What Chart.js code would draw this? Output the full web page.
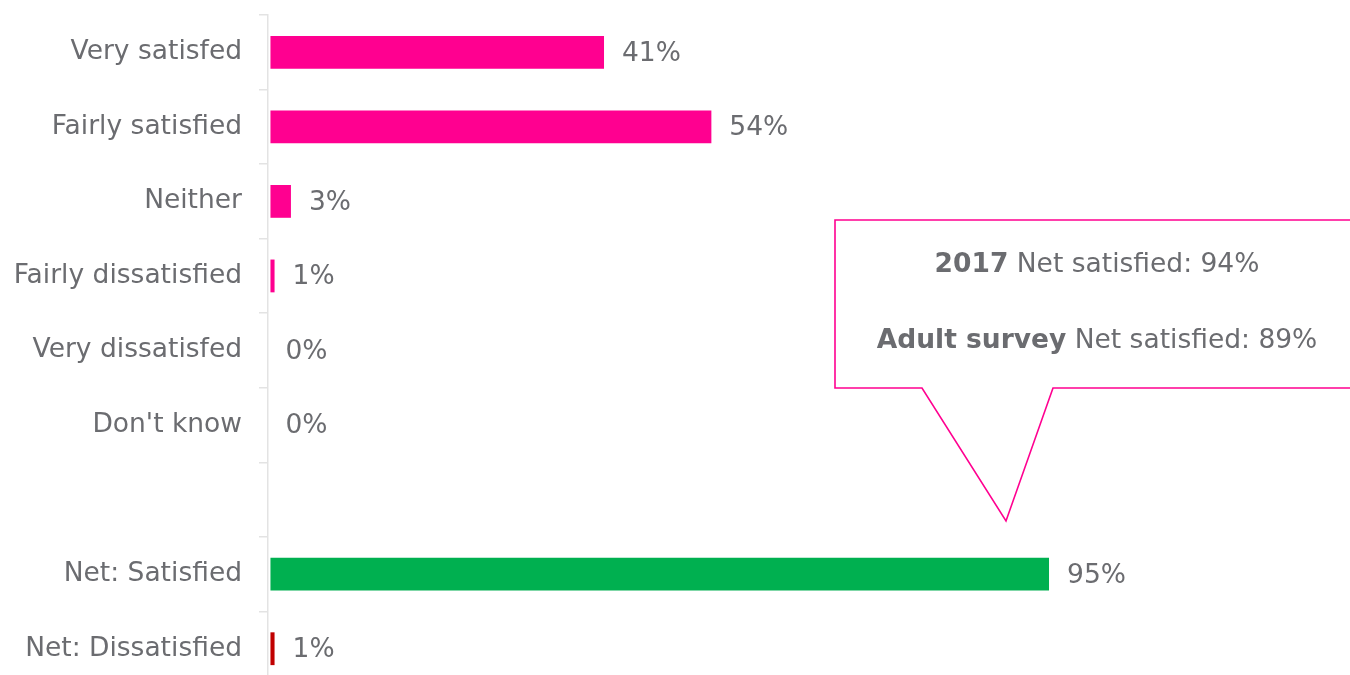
<!DOCTYPE html>
<html>
<head>
<meta charset="utf-8">
<script src="https://cdn.jsdelivr.net/npm/chart.js@4/dist/chart.umd.min.js"></script>
<style>
  html, body { margin: 0; padding: 0; background: #fff; overflow: hidden; }
  #wrap { width: 1350px; height: 690px; position: relative; }
</style>
</head>
<body>
<div id="wrap"><canvas id="myChart" width="1350" height="690"></canvas></div>
<script>
var categories = ['Very satisfed', 'Fairly satisfied', 'Neither', 'Fairly dissatisfied',
  'Very dissatisfed', "Don't know", '', 'Net: Satisfied', 'Net: Dissatisfied'];
// bar lengths as drawn, and the rounded labels printed beside them
var values = [40.7, 53.8, 2.5, 0.5, 0, 0, null, 95, 0.5];
var valueText = ['41%', '54%', '3%', '1%', '0%', '0%', '', '95%', '1%'];
var barColors = ['#ff0090', '#ff0090', '#ff0090', '#ff0090', '#ff0090', '#ff0090', '#ff0090', '#00b050', '#c00000'];
var calloutLines = [['2017', ' Net satisfied: 94%'], ['Adult survey', ' Net satisfied: 89%']];

var textGrey = '#6b6c70';
var fontFamily = '"DejaVu Sans", Verdana, sans-serif';
var fontSize = 26.5;

// value labels at the end of each bar
var valueLabels = {
  id: 'valueLabels',
  afterDatasetsDraw: function(chart) {
    var ctx = chart.ctx;
    var meta = chart.getDatasetMeta(0);
    ctx.save();
    ctx.font = fontSize + 'px ' + fontFamily;
    ctx.fillStyle = textGrey;
    ctx.textBaseline = 'middle';
    ctx.textAlign = 'left';
    meta.data.forEach(function(bar, i) {
      if (values[i] === null) return;
      var gap = values[i] > 0 ? 18 : 15;
      ctx.fillText(valueText[i], bar.x + gap, bar.y + 1.5);
    });
    ctx.restore();
  }
};

// speech bubble with comparison figures
var callout = {
  id: 'callout',
  afterDraw: function(chart) {
    var ctx = chart.ctx;
    var left = 835, top = 220, bottom = 388, right = 1360;
    ctx.save();
    ctx.strokeStyle = '#ff0090';
    ctx.lineWidth = 1.6;
    ctx.beginPath();
    ctx.moveTo(right, top);
    ctx.lineTo(left, top);
    ctx.lineTo(left, bottom);
    ctx.lineTo(922, bottom);
    ctx.lineTo(1006, 521);
    ctx.lineTo(1053, bottom);
    ctx.lineTo(right, bottom);
    ctx.stroke();

    ctx.fillStyle = textGrey;
    ctx.textBaseline = 'middle';
    ctx.textAlign = 'left';
    var cx = 1097;
    var ys = [265, 341];
    calloutLines.forEach(function(parts, i) {
      ctx.font = 'bold ' + fontSize + 'px ' + fontFamily;
      var w1 = ctx.measureText(parts[0]).width;
      ctx.font = fontSize + 'px ' + fontFamily;
      var w2 = ctx.measureText(parts[1]).width;
      var x0 = cx - (w1 + w2) / 2;
      ctx.font = 'bold ' + fontSize + 'px ' + fontFamily;
      ctx.fillText(parts[0], x0, ys[i]);
      ctx.font = fontSize + 'px ' + fontFamily;
      ctx.fillText(parts[1], x0 + w1, ys[i]);
    });
    ctx.restore();
  }
};

var ctx = document.getElementById('myChart').getContext('2d');
var myChart = new Chart(ctx, {
  type: 'bar',
  data: {
    labels: categories,
    datasets: [{
      data: values,
      backgroundColor: barColors,
      borderWidth: 0,
      barPercentage: 0.44,
      categoryPercentage: 1
    }]
  },
  options: {
    indexAxis: 'y',
    responsive: false,
    animation: false,
    layout: { padding: { top: 15, bottom: 4, right: 260, left: 0 } },
    plugins: {
      legend: { display: false },
      tooltip: { enabled: false }
    },
    scales: {
      x: {
        display: false,
        min: -0.3,
        max: 100
      },
      y: {
        afterFit: function(scale) {
          scale.width = 268;
          scale.paddingTop = 0;
          scale.paddingBottom = 0;
        },
        grid: {
          display: true,
          drawOnChartArea: false,
          offset: true,
          tickLength: 9,
          color: '#e3e3e3',
          lineWidth: 1.5
        },
        border: { display: true, color: '#e3e3e3', width: 1.5 },
        ticks: {
          color: textGrey,
          padding: 17,
          autoSkip: false,
          font: { family: fontFamily, size: fontSize }
        }
      }
    }
  },
  plugins: [valueLabels, callout]
});
</script>
</body>
</html>
